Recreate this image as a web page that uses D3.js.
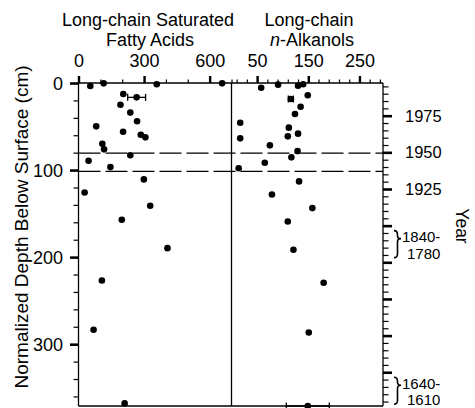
<!DOCTYPE html>
<html>
<head>
<meta charset="utf-8">
<script src="https://cdn.jsdelivr.net/npm/d3@7"></script>
<style>
  body { margin: 0; background: #fff; }
  svg { display: block; }
  text { font-family: "Liberation Sans", Arial, Helvetica, sans-serif; fill: #000; }
</style>
</head>
<body>
<svg id="chart" width="475" height="408"></svg>
<script>
// Long-chain saturated fatty acids: normalized depth (cm) and concentration
const acidDepth = [0.4, 3.4, 1.5, 0.4, 12.6, 16.5, 24.9, 34, 44, 49.8, 56, 59.4, 62.4, 69.7, 76.2, 83, 89.3, 96.6, 110.7, 125.7, 141, 157, 189.7, 226.8, 283.5, 368];
const acidValue = [115, 54, 358, 657, 205, 266, 192, 237, 268, 81, 204, 285, 306, 109, 117, 237, 46, 146, 299, 28, 328, 198, 407, 107, 69, 211];
const acidError = [0, 0, 0, 0, 0, 41, 0, 0, 0, 0, 0, 0, 0, 0, 0, 0, 0, 0, 0, 0, 0, 0, 0, 0, 0, 0];

// Long-chain n-alkanols: normalized depth (cm) and concentration
const alkDepth = [1.5, 1.9, 3.1, 5.4, 14.1, 18.4, 27.2, 35.6, 45.6, 51.3, 58.2, 61.3, 63.6, 71.6, 78.2, 85.4, 91.6, 98, 113, 128, 143.7, 159, 191.6, 229.5, 286.6, 371];
const alkValue = [140, 91, 130, 58, 149, 116, 135, 124, 17, 112, 130, 110, 17, 75, 129, 117, 65, 14, 132, 79, 158, 110, 121, 180, 151, 149];
const alkError = [0, 0, 0, 0, 0, 5, 0, 0, 0, 0, 0, 0, 0, 0, 0, 0, 0, 0, 0, 0, 0, 0, 0, 0, 0, 42];

// Horizontal boundary depths (cm), drawn dashed
const boundaryDepths = [80.5, 101.5];

// Axis ticks
const acidTicks = [0, 300, 600];
const alkTicks = [50, 150, 250];
const depthTicks = [0, 100, 200, 300];
// Year axis: one entry per major section mark
const yearLabels = ["1975", "1950", "1925", "", "", "", "", ""];
const yearRanges = [
  { section: 3, from: "1840-", to: "1780" },
  { section: 7, from: "1640-", to: "1610" }
];

const svg = d3.select("#chart");

const plotTop = 83, plotBottom = 406;
const xLeft0 = 78.5, xMid = 231.5, xRight1 = 383;

const y = d3.scaleLinear().domain([0, 371]).range([plotTop, plotBottom]);
const xAcid = d3.scaleLinear().domain([0, 700]).range([xLeft0, xMid]);
const xAlk = d3.scaleLinear().domain([0, 296]).range([xMid, xRight1]);
// Year sections: majors at integer steps
const yYear = d3.scaleLinear().domain([-0.892, 7.921]).range([plotTop, plotBottom]);

const round = v => Math.round(v * 1000) / 1000;

function styleAxis(g, width) {
  g.select(".domain").remove();
  g.selectAll(".tick line").attr("stroke", "#000").attr("stroke-width", width);
}

// --- top axis, fatty acids
const acidMinor = d3.range(0, 701, 100).filter(v => !acidTicks.includes(v));
svg.append("g").attr("transform", `translate(0,${plotTop})`)
  .call(d3.axisTop(xAcid).tickValues(acidMinor).tickSize(3.5).tickFormat(""))
  .call(g => styleAxis(g, 1.2));
svg.append("g").attr("transform", `translate(0,${plotTop})`)
  .call(d3.axisTop(xAcid).tickValues(acidTicks).tickSize(7).tickPadding(9).tickFormat(d3.format("d")))
  .call(g => styleAxis(g, 2.4))
  .call(g => g.selectAll("text").attr("font-size", 18));

// --- top axis, alkanols
const alkMinor = d3.range(10, 296, 20).filter(v => !alkTicks.includes(v));
svg.append("g").attr("transform", `translate(0,${plotTop})`)
  .call(d3.axisTop(xAlk).tickValues(alkMinor).tickSize(3.5).tickFormat(""))
  .call(g => styleAxis(g, 1.2));
svg.append("g").attr("transform", `translate(0,${plotTop})`)
  .call(d3.axisTop(xAlk).tickValues(alkTicks).tickSize(7).tickPadding(9).tickFormat(d3.format("d")))
  .call(g => styleAxis(g, 2.4))
  .call(g => g.selectAll("text").attr("font-size", 18));

// --- left depth axis
const depthMinor = d3.range(20, 371, 20).filter(v => !depthTicks.includes(v));
svg.append("g").attr("transform", `translate(${xLeft0},0)`)
  .call(d3.axisLeft(y).tickValues(depthMinor).tickSize(5).tickFormat(""))
  .call(g => styleAxis(g, 1.2));
svg.append("g").attr("transform", `translate(${xLeft0},0)`)
  .call(d3.axisLeft(y).tickValues(depthTicks).tickSize(8.5).tickPadding(7).tickFormat(d3.format("d")))
  .call(g => styleAxis(g, 2.6))
  .call(g => g.selectAll("text").attr("font-size", 18).attr("dy", "0.36em"));

// --- right year axis
const yearMinor = d3.range(-0.8, 7.91, 0.2).map(round).filter(v => Math.abs(v - Math.round(v)) > 1e-6);
const yearMajor = d3.range(0, 8);
svg.append("g").attr("transform", `translate(${xRight1},0)`)
  .call(d3.axisRight(yYear).tickValues(yearMinor).tickSize(5.5).tickFormat(""))
  .call(g => styleAxis(g, 1.2));
svg.append("g").attr("transform", `translate(${xRight1},0)`)
  .call(d3.axisRight(yYear).tickValues(yearMajor).tickSize(9).tickFormat(""))
  .call(g => styleAxis(g, 2.6));

svg.append("g").selectAll("text")
  .data(yearMajor.filter(k => yearLabels[k]))
  .join("text")
  .attr("x", xRight1 + 22)
  .attr("y", k => yYear(k))
  .attr("dy", "0.36em")
  .attr("font-size", 16.5)
  .text(k => yearLabels[k]);

// Year ranges with curly braces
function bracePath(x0, y1, y2, yTip, w) {
  const xm = x0 + w * 0.5;
  return `M${x0},${y1} Q${xm},${y1} ${xm},${y1 + 4}` +
         ` L${xm},${yTip - 3} Q${xm},${yTip} ${x0 + w},${yTip}` +
         ` Q${xm},${yTip} ${xm},${yTip + 3}` +
         ` L${xm},${y2 - 4} Q${xm},${y2} ${x0},${y2}`;
}
const rangeG = svg.append("g").selectAll("g").data(yearRanges).join("g");
rangeG.append("path")
  .attr("d", d => {
    const y0 = yYear(d.section);
    return bracePath(xRight1 + 11, y0 + 5, y0 + 32, y0 + 13, 7);
  })
  .attr("fill", "none").attr("stroke", "#000").attr("stroke-width", 1.6);
rangeG.append("text")
  .attr("x", xRight1 + 19).attr("y", d => yYear(d.section) + 16.5)
  .attr("font-size", 15).text(d => d.from);
rangeG.append("text")
  .attr("x", xRight1 + 24).attr("y", d => yYear(d.section) + 33)
  .attr("font-size", 15).text(d => d.to);

// --- frame
const frame = svg.append("g").attr("stroke", "#000").attr("stroke-width", 1.3);
frame.append("line").attr("x1", xLeft0).attr("x2", xRight1).attr("y1", plotTop).attr("y2", plotTop);
frame.append("line").attr("x1", xLeft0).attr("x2", xRight1).attr("y1", plotBottom).attr("y2", plotBottom);
[xLeft0, xMid, xRight1].forEach(x =>
  frame.append("line").attr("x1", x).attr("x2", x).attr("y1", plotTop).attr("y2", plotBottom));

// --- dashed boundaries
svg.append("g").selectAll("line").data(boundaryDepths).join("line")
  .attr("x1", xLeft0).attr("x2", xRight1)
  .attr("y1", d => y(d)).attr("y2", d => y(d))
  .attr("stroke", "#000").attr("stroke-width", 1.3)
  .attr("stroke-dasharray", "22,5");

// --- points and error bars
function drawPanel(depths, values, errors, x) {
  const g = svg.append("g");
  const idx = d3.range(depths.length);
  const eb = g.selectAll("g.err").data(idx.filter(i => errors[i] > 0)).join("g")
    .attr("stroke", "#000").attr("stroke-width", 1.3);
  eb.append("line")
    .attr("x1", i => x(values[i] - errors[i])).attr("x2", i => x(values[i] + errors[i]))
    .attr("y1", i => y(depths[i])).attr("y2", i => y(depths[i]));
  eb.append("line")
    .attr("x1", i => x(values[i] - errors[i])).attr("x2", i => x(values[i] - errors[i]))
    .attr("y1", i => y(depths[i]) - 3.5).attr("y2", i => y(depths[i]) + 3.5);
  eb.append("line")
    .attr("x1", i => x(values[i] + errors[i])).attr("x2", i => x(values[i] + errors[i]))
    .attr("y1", i => y(depths[i]) - 3.5).attr("y2", i => y(depths[i]) + 3.5);
  g.selectAll("circle").data(idx).join("circle")
    .attr("cx", i => x(values[i]))
    .attr("cy", i => y(depths[i]))
    .attr("r", 3.3)
    .attr("fill", "#000");
}
drawPanel(acidDepth, acidValue, acidError, xAcid);
drawPanel(alkDepth, alkValue, alkError, xAlk);

// --- titles
const titles = svg.append("g").attr("font-size", 18).attr("text-anchor", "middle");
titles.append("text").attr("x", 148).attr("y", 25.5).text("Long-chain Saturated");
titles.append("text").attr("x", 150).attr("y", 45.5).text("Fatty Acids");
titles.append("text").attr("x", 309).attr("y", 25.5).text("Long-chain");
const alkTitle = titles.append("text").attr("x", 312).attr("y", 45.5);
alkTitle.append("tspan").attr("font-style", "italic").text("n");
alkTitle.append("tspan").text("-Alkanols");

// --- axis titles
svg.append("text")
  .attr("transform", "translate(28,227) rotate(-90)")
  .attr("text-anchor", "middle").attr("font-size", 19)
  .text("Normalized Depth Below Surface (cm)");
svg.append("text")
  .attr("transform", "translate(456,226) rotate(90)")
  .attr("text-anchor", "middle").attr("font-size", 17.5)
  .text("Year");
</script>
</body>
</html>
